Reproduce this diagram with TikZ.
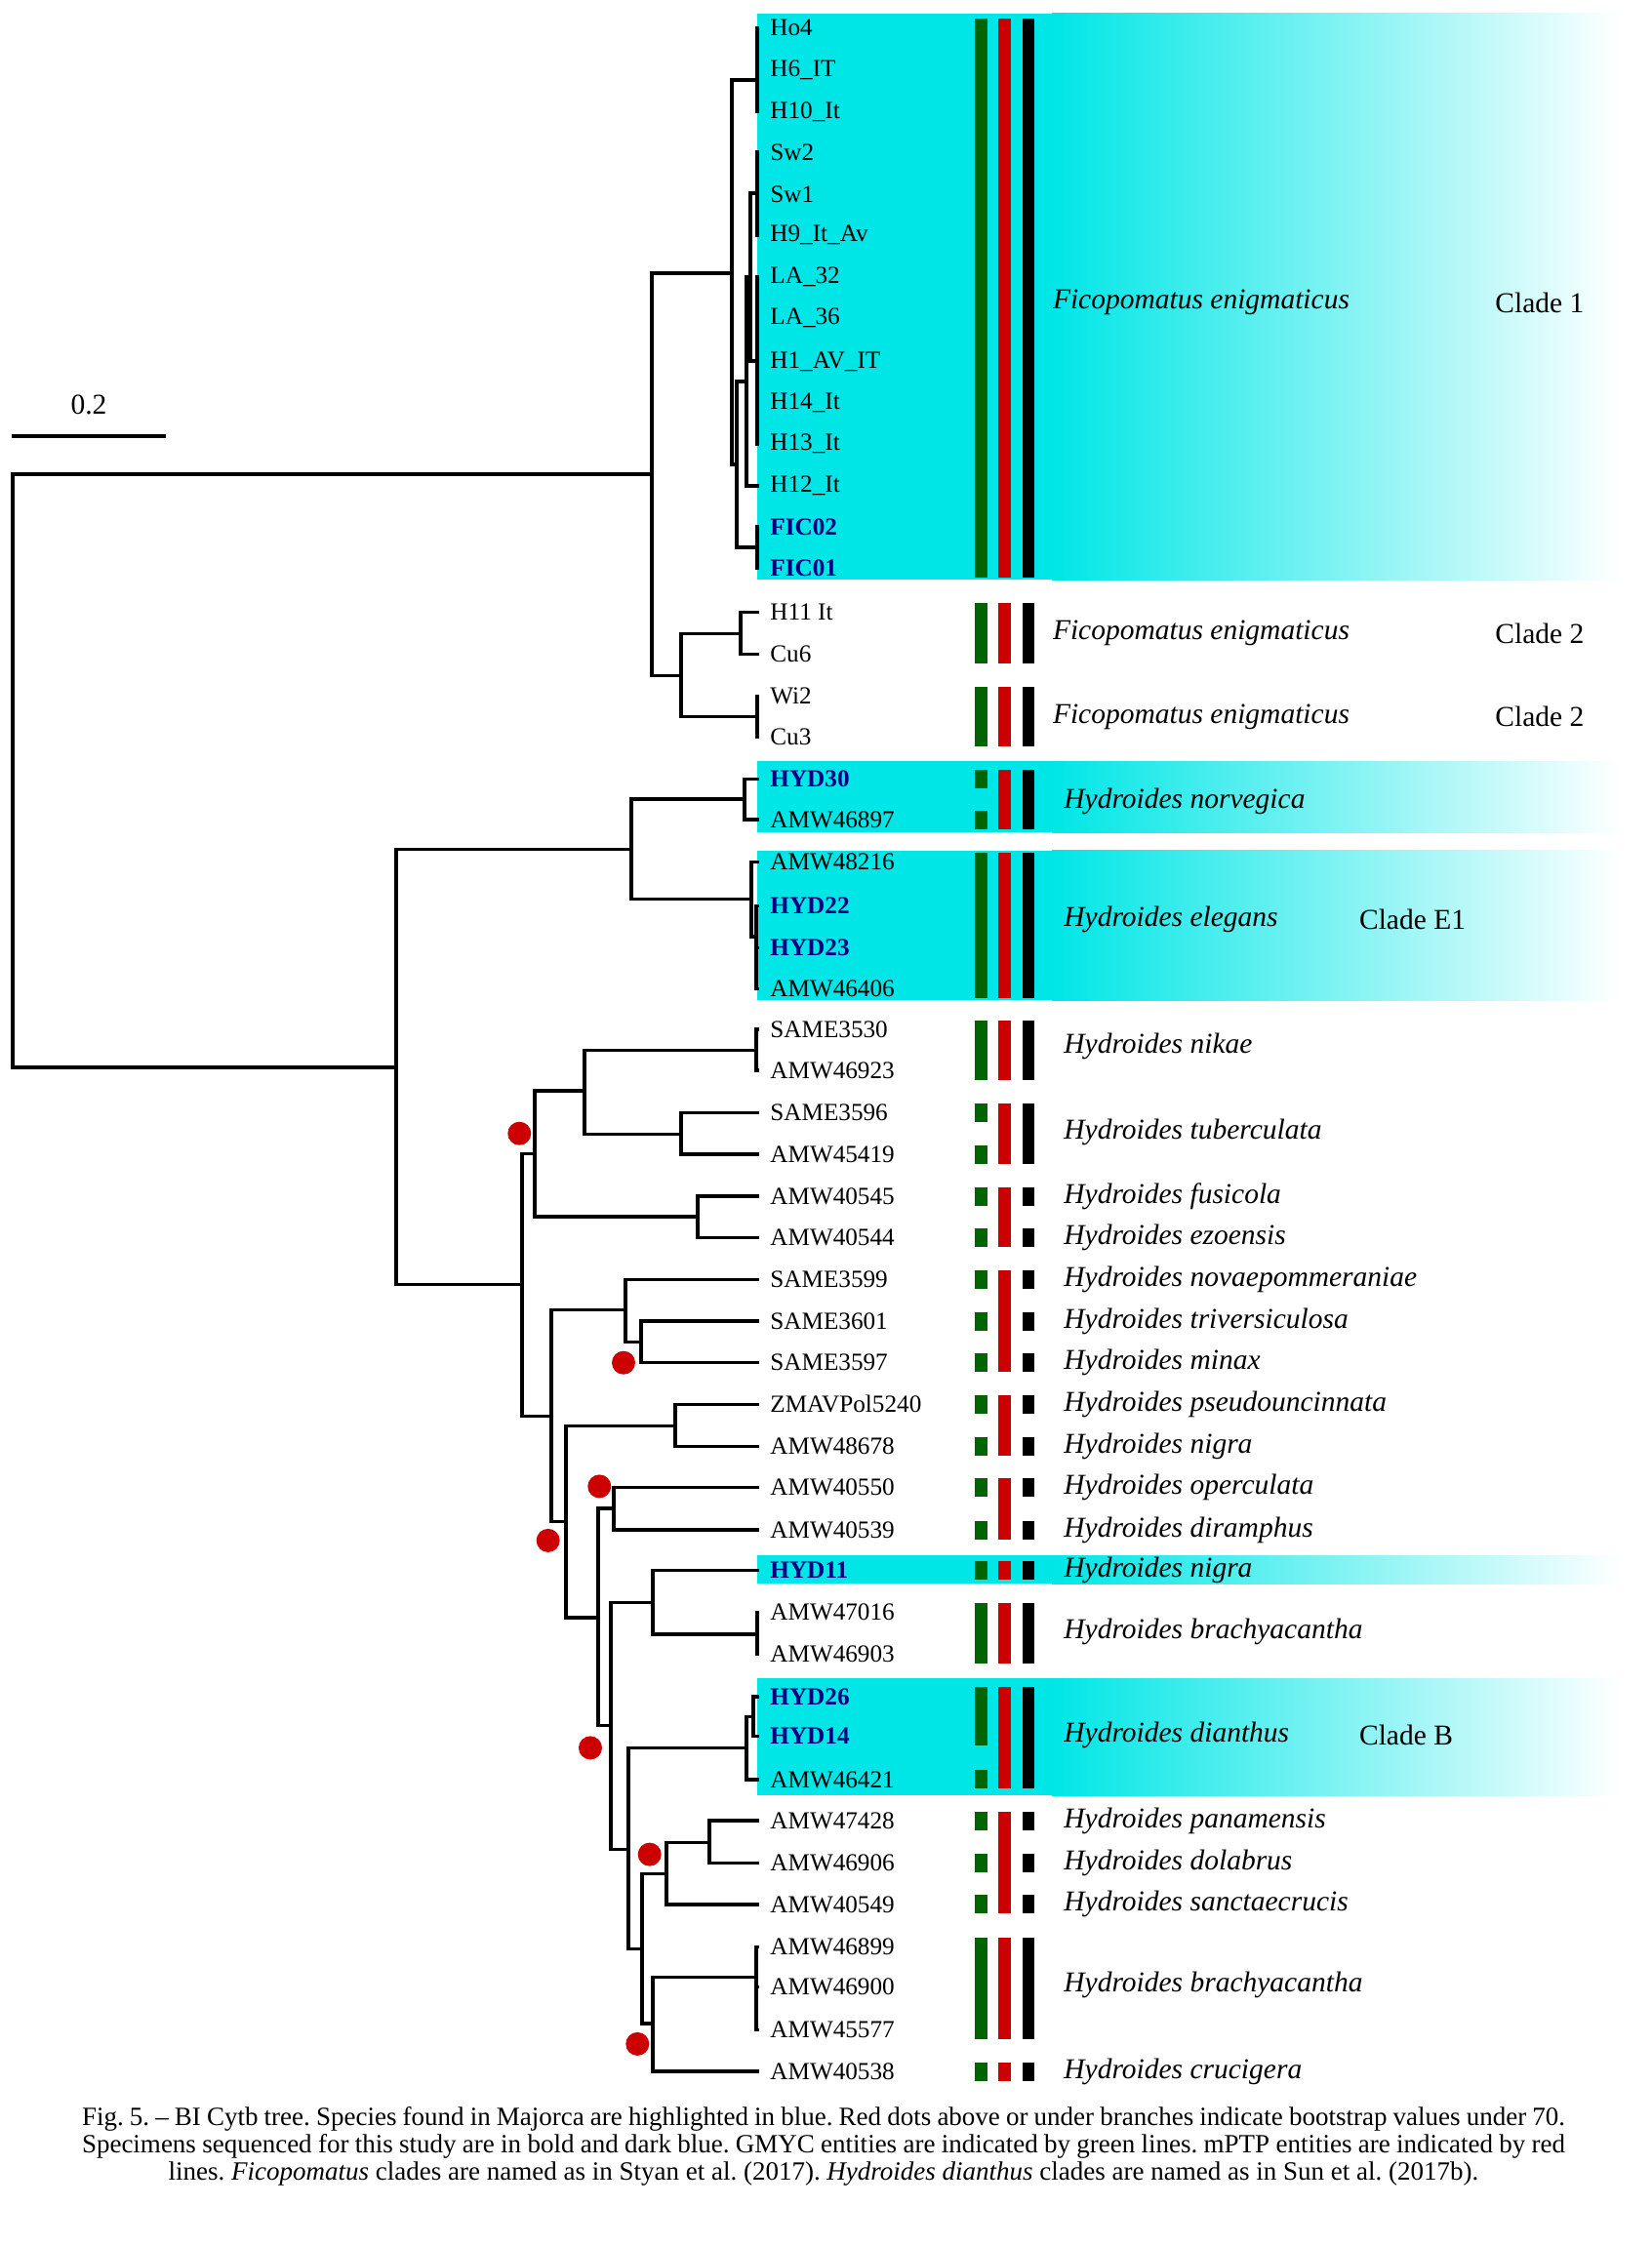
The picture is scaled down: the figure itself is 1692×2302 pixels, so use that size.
\documentclass[tikz,border=0pt]{standalone}
\usepackage{fontspec}
\setmainfont{Liberation Serif}
\newfontfamily\capfont{Liberation Serif}
\usetikzlibrary{positioning,calc}
\definecolor{hlcyan}{RGB}{0,230,230}
\definecolor{darkgreen}{RGB}{0,100,0}
\definecolor{darkred}{RGB}{204,0,0}
\definecolor{darkblue}{RGB}{0,0,128}

\tikzset{
  branch/.style={line width=1.7pt},
  tiplabel/.style={anchor=west, inner sep=0pt, font=\fontsize{12.6}{14}\selectfont},
  ownlabel/.style={anchor=west, inner sep=0pt, font=\fontsize{12.6}{14}\selectfont\bfseries, text=darkblue},
  species/.style={anchor=west, inner sep=0pt, font=\fontsize{14.75}{17}\selectfont\itshape},
  cladename/.style={anchor=west, inner sep=0pt, font=\fontsize{14.75}{17}\selectfont},
  bsdot/.style={circle, fill=darkred, inner sep=0pt, minimum size=12pt},
  capline/.style={inner sep=0pt, font=\capfont\fontsize{13.5}{16}\selectfont\frenchspacing}
}
\newcommand{\clade}[2]{\foreach \kid in {#2}{\draw[branch] (#1) |- (\kid);}}
\newcommand{\hlbox}[2]{%
  \fill[hlcyan] (776,#1) rectangle (1080,#2);
  \shade[left color=hlcyan, right color=white] (1078,#1) rectangle (1662,#2);}

\begin{document}
\begin{tikzpicture}[x=0.5pt, y=-0.5pt]
    \useasboundingbox (0,0) rectangle (1692,2302);

    % Highlighted (Majorca) species
    \hlbox{13.5}{594}
    \hlbox{780}{853}
    \hlbox{871.7}{1025}
    \hlbox{1594}{1623}
    \hlbox{1720}{1840}

    % Entity bars: GMYC, mPTP, species
    \foreach \a/\b in {28.5/582, 627.7/670.7, 713.3/755.7, 798.3/798.3, 840/840, 883.3/1013.3,
        1055/1097, 1140.7/1140.7, 1183/1183, 1226/1226, 1268.3/1268.3, 1311.7/1311.7,
        1354/1354, 1396.7/1396.7, 1439.3/1439.3, 1482.3/1482.3, 1524.7/1524.7, 1568/1568,
        1609.2/1609.2, 1652.6/1695.5, 1738.9/1779.2, 1823.9/1823.9, 1866/1866,
        1909.3/1909.3, 1951.8/1951.8, 1995.2/2080.6, 2123.1/2123.1}
        \fill[darkgreen] (999,\a-9.5) rectangle (1011.7,\b+9.5);
    \foreach \a/\b in {28.5/582, 627.7/670.7, 713.3/755.7, 798.3/840, 883.3/1013.3,
        1055/1097, 1140.7/1183, 1226/1268.3, 1311.7/1396.7, 1439.3/1482.3, 1524.7/1568,
        1609.2/1609.2, 1652.6/1695.5, 1738.9/1823.9, 1866/1951.8, 1995.2/2080.6, 2123.1/2123.1}
        \fill[darkred] (1023.3,\a-9.5) rectangle (1036,\b+9.5);
    \foreach \a/\b in {28.5/582, 627.7/670.7, 713.3/755.7, 798.3/840, 883.3/1013.3,
        1055/1097, 1140.7/1183, 1226/1226, 1268.3/1268.3, 1311.7/1311.7, 1354/1354,
        1396.7/1396.7, 1439.3/1439.3, 1482.3/1482.3, 1524.7/1524.7, 1568/1568,
        1609.2/1609.2, 1652.6/1695.5, 1738.9/1823.9, 1866/1866, 1909.3/1909.3,
        1951.8/1951.8, 1995.2/2080.6, 2123.1/2123.1}
        \fill[black] (1047.7,\a-9.5) rectangle (1060.3,\b+9.5);

    % Tips
    \foreach \n/\y/\lab in {ho4/28.5/Ho4, h6/72/H6\_IT, h10/114.5/H10\_It, sw2/156/Sw2,
        sw1/199/Sw1, h9/241/H9\_It\_Av, la32/284/LA\_32, la36/326/LA\_36,
        h1/371/H1\_AV\_IT, h14/413/H14\_It, h13/455/H13\_It, h12/498/H12\_It,
        h11/627.7/H11 It, cu6/670.7/Cu6, wi2/713.3/Wi2, cu3/755.7/Cu3,
        a46897/840/AMW46897, a48216/883.3/AMW48216, a46406/1013.3/AMW46406,
        s3530/1055/SAME3530, a46923/1097/AMW46923, s3596/1140.7/SAME3596,
        a45419/1183/AMW45419, a40545/1226/AMW40545, a40544/1268.3/AMW40544,
        s3599/1311.7/SAME3599, s3601/1354/SAME3601, s3597/1396.7/SAME3597,
        zmav/1439.3/ZMAVPol5240, a48678/1482.3/AMW48678, a40550/1524.7/AMW40550,
        a40539/1568/AMW40539, a47016/1652.6/AMW47016, a46903/1695.5/AMW46903,
        a46421/1823.9/AMW46421, a47428/1866/AMW47428, a46906/1909.3/AMW46906,
        a40549/1951.8/AMW40549, a46899/1995.2/AMW46899, a46900/2036.4/AMW46900,
        a45577/2080.6/AMW45577, a40538/2123.1/AMW40538}{
        \coordinate (\n) at (778,\y);
        \node[tiplabel] (l\n) at (789,\y) {\lab};
    }
    % Tips sequenced for this study
    \foreach \n/\y/\lab in {fic02/540/FIC02, fic01/582/FIC01, hyd30/798.3/HYD30,
        hyd22/928.3/HYD22, hyd23/971.7/HYD23, hyd11/1609.2/HYD11,
        hyd26/1738.9/HYD26, hyd14/1779.2/HYD14}{
        \coordinate (\n) at (778,\y);
        \node[ownlabel] (l\n) at (789,\y) {\lab};
    }

    % Internal nodes
    \coordinate (root) at (13,790);
    \coordinate (fico) at (668,486);
    \coordinate (c1) at (750,280);
    \coordinate (c1a) at (776,82);
    \coordinate (c1b) at (755,476);
    \coordinate (c1c) at (765,391);
    \coordinate (c1d) at (769,284);
    \coordinate (c1sw) at (776,198);
    \coordinate (c1la) at (776,370);
    \coordinate (c1fic) at (776,561);
    \coordinate (c2) at (698,692.6);
    \coordinate (c2a) at (759,649.3);
    \coordinate (c2b) at (776,734.5);
    \coordinate (hyd) at (406,1094);
    \coordinate (hu) at (647,870.5);
    \coordinate (nor) at (763,819);
    \coordinate (ele) at (770,921.7);
    \coordinate (ele2) at (775,960);
    \coordinate (hl) at (535,1316.7);
    \coordinate (n1) at (548,1182.7);
    \coordinate (n11) at (599,1118);
    \coordinate (nik) at (775,1076.7);
    \coordinate (tub) at (698,1162.3);
    \coordinate (fus) at (715,1247);
    \coordinate (n2) at (565,1451.7);
    \coordinate (nov) at (641,1342.3);
    \coordinate (nov2) at (657,1375.7);
    \coordinate (n3) at (580,1559.4);
    \coordinate (pse) at (692,1461.7);
    \coordinate (n4) at (613,1657.8);
    \coordinate (ope) at (629,1546);
    \coordinate (n5) at (626,1768.4);
    \coordinate (n6) at (669,1642.6);
    \coordinate (bra) at (776,1675.1);
    \coordinate (n7) at (644,1895.4);
    \coordinate (dia) at (765,1791.4);
    \coordinate (dia2) at (772,1759.7);
    \coordinate (n8) at (658,1997.3);
    \coordinate (pan) at (683,1920.2);
    \coordinate (pan2) at (727,1888.5);
    \coordinate (n9) at (669,2074.1);
    \coordinate (bra2) at (775,2026.4);

    % Ficopomatus
    \clade{root}{fico,hyd}
    \clade{fico}{c1,c2}
    \clade{c1}{c1a,c1b}
    \clade{c1a}{ho4,h6,h10}
    \clade{c1b}{c1c,c1fic}
    \clade{c1c}{c1d,h12}
    \clade{c1d}{c1sw,c1la}
    \clade{c1sw}{sw2,sw1,h9}
    \clade{c1la}{la32,la36,h1,h14,h13}
    \clade{c1fic}{fic02,fic01}
    \clade{c2}{c2a,c2b}
    \clade{c2a}{h11,cu6}
    \clade{c2b}{wi2,cu3}

    % Hydroides
    \clade{hyd}{hu,hl}
    \clade{hu}{nor,ele}
    \clade{nor}{hyd30,a46897}
    \clade{ele}{a48216,ele2}
    \clade{ele2}{hyd22,hyd23,a46406}
    \clade{hl}{n1,n2}
    \clade{n1}{n11,fus}
    \clade{n11}{nik,tub}
    \clade{nik}{s3530,a46923}
    \clade{tub}{s3596,a45419}
    \clade{fus}{a40545,a40544}
    \clade{n2}{nov,n3}
    \clade{nov}{s3599,nov2}
    \clade{nov2}{s3601,s3597}
    \clade{n3}{pse,n4}
    \clade{pse}{zmav,a48678}
    \clade{n4}{ope,n5}
    \clade{ope}{a40550,a40539}
    \clade{n5}{n6,n7}
    \clade{n6}{hyd11,bra}
    \clade{bra}{a47016,a46903}
    \clade{n7}{dia,n8}
    \clade{dia}{dia2,a46421}
    \clade{dia2}{hyd26,hyd14}
    \clade{n8}{pan,n9}
    \clade{pan}{pan2,a40549}
    \clade{pan2}{a47428,a46906}
    \clade{n9}{bra2,a40538}
    \clade{bra2}{a46899,a46900,a45577}

    % Bootstrap below 70
    \node[bsdot] (d1) at (532.3,1161.7) {};
    \node[bsdot] (d2) at (639,1396.7) {};
    \node[bsdot] (d3) at (614.3,1523.4) {};
    \node[bsdot] (d4) at (561.7,1578.9) {};
    \node[bsdot] (d5) at (605,1791.4) {};
    \node[bsdot] (d6) at (665.7,1900.6) {};
    \node[bsdot] (d7) at (653.3,2094.9) {};

    % Scale bar
    \node[cladename, anchor=center] (scale) at (91,415) {0.2};
    \draw[branch] (12,447) -- (170,447);

    % Species names
    \node[species] (sp1) at (1078.6,310) {Ficopomatus enigmaticus};
    \node[cladename] (cl1) at (1532,310) {Clade 1};
    \node[species] (sp2) at (1078.6,649.3) {Ficopomatus enigmaticus};
    \node[cladename] (cl2) at (1532,649.3) {Clade 2};
    \node[species] (sp3) at (1078.6,734.5) {Ficopomatus enigmaticus};
    \node[cladename] (cl3) at (1532,734.5) {Clade 2};
    \node[species] (sp4) at (1090,821) {Hydroides norvegica};
    \node[species] (sp5) at (1090,942) {Hydroides elegans};
    \node[cladename] (cl4) at (1392.7,942) {Clade E1};
    \node[species] (sp6) at (1090,1072) {Hydroides nikae};
    \node[species] (sp7) at (1090,1160) {Hydroides tuberculata};
    \node[species] (sp8) at (1090,1226) {Hydroides fusicola};
    \node[species] (sp9) at (1090,1268.3) {Hydroides ezoensis};
    \node[species] (sp10) at (1090,1311.7) {Hydroides novaepommeraniae};
    \node[species] (sp11) at (1090,1354) {Hydroides triversiculosa};
    \node[species] (sp12) at (1090,1396.7) {Hydroides minax};
    \node[species] (sp13) at (1090,1439.3) {Hydroides pseudouncinnata};
    \node[species] (sp14) at (1090,1482.3) {Hydroides nigra};
    \node[species] (sp15) at (1090,1524.7) {Hydroides operculata};
    \node[species] (sp16) at (1090,1568) {Hydroides diramphus};
    \node[species] (sp17) at (1090,1609.2) {Hydroides nigra};
    \node[species] (sp18) at (1090,1672) {Hydroides brachyacantha};
    \node[species] (sp19) at (1090,1778) {Hydroides dianthus};
    \node[cladename] (cl5) at (1392.7,1778) {Clade B};
    \node[species] (sp20) at (1090,1866) {Hydroides panamensis};
    \node[species] (sp21) at (1090,1909.3) {Hydroides dolabrus};
    \node[species] (sp22) at (1090,1951.8) {Hydroides sanctaecrucis};
    \node[species] (sp23) at (1090,2034) {Hydroides brachyacantha};
    \node[species] (sp24) at (1090,2123.1) {Hydroides crucigera};

    % Caption
    \node[capline] (cap1) at (844,2171.7) {\makebox[760pt][s]{Fig. 5. – BI Cytb tree. Species found in Majorca are highlighted in blue. Red dots above or under branches indicate bootstrap values under 70.}};
    \node[capline] (cap2) at (844,2200) {\makebox[760pt][s]{Specimens sequenced for this study are in bold and dark blue. GMYC entities are indicated by green lines. mPTP entities are indicated by red}};
    \node[capline] (cap3) at (844,2228.3) {lines. \textit{Ficopomatus} clades are named as in Styan et al. (2017). \textit{Hydroides dianthus} clades are named as in Sun et al. (2017b).};
\end{tikzpicture}
\end{document}
